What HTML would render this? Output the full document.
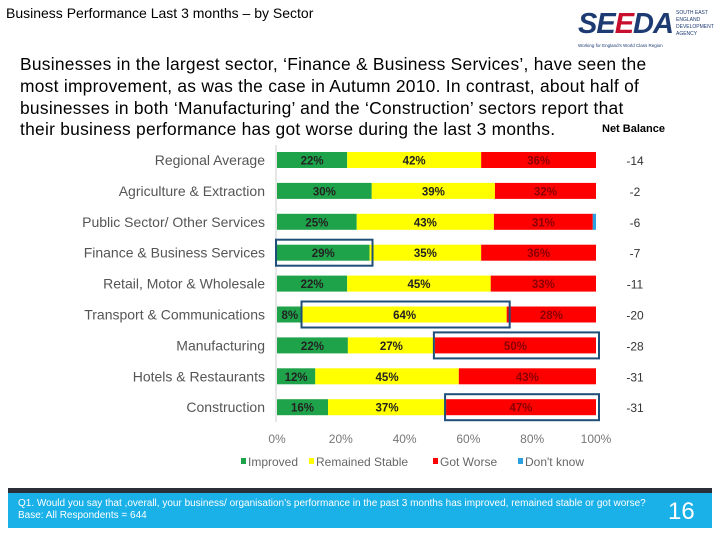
<!DOCTYPE html>
<html><head><meta charset="utf-8"><style>
body{margin:0;width:720px;height:540px;background:#fff;font-family:"Liberation Sans",sans-serif;position:relative;overflow:hidden}
.a{position:absolute;white-space:nowrap}
</style></head><body>
<div class="a" style="left:6px;top:5px;font-size:14px;color:#000">Business Performance Last 3 months – by Sector</div>
<div class="a" style="left:578px;top:8px;width:130px;height:42px">
 <div class="a" style="left:0;top:0;font-size:29px;font-weight:bold;color:#1d3a73;font-style:italic;letter-spacing:-1px">SE<span style="color:#c8102e">E</span>DA</div>
 <div class="a" style="left:98px;top:2px;font-size:5px;line-height:7px;color:#1d3a73">SOUTH EAST<br>ENGLAND<br>DEVELOPMENT<br>AGENCY</div>
 <div class="a" style="left:0;top:35px;font-size:4.5px;color:#1d3a73">Working for England's World Class Region</div>
</div>
<div class="a" style="left:20px;top:54px;font-size:17.4px;line-height:21.8px;color:#000;letter-spacing:0.26px">Businesses in the largest sector, ‘Finance &amp; Business Services’, have seen the<br>most improvement, as was the case in Autumn 2010. In contrast, about half of<br>businesses in both ‘Manufacturing’ and the ‘Construction’ sectors report that<br>their business performance has got worse during the last 3 months.</div>
<div class="a" style="left:602px;top:123px;font-size:11px;font-weight:bold">Net Balance</div>
<svg id="c" class="a" style="left:0;top:0" width="720" height="540"></svg>
<div class="a" style="left:8px;top:488px;width:704px;height:5px;background:#2a2f38"></div>
<div class="a" style="left:8px;top:493px;width:704px;height:35px;background:#1ab0e8;color:#fff">
 <div class="a" style="left:10px;top:5px;font-size:10px;line-height:12px">Q1. Would you say that ,overall, your business/ organisation’s performance in the past 3 months has improved, remained stable or got worse?<br>Base: All Respondents = 644</div>
 <div class="a" style="left:660px;top:5px;font-size:24px">16</div>
</div>
<script>
const categories=["Regional Average","Agriculture & Extraction","Public Sector/ Other Services","Finance & Business Services","Retail, Motor & Wholesale","Transport & Communications","Manufacturing","Hotels & Restaurants","Construction"];
const improved=[22,30,25,29,22,8,22,12,16];
const stable=[42,39,43,35,45,64,27,45,37];
const worse=[36,32,31,36,33,28,50,43,47];
const dontKnow=[0,0,1,0,0,0,0,0,0];
const netBalance=[-14,-2,-6,-7,-11,-20,-28,-31,-31];
const xTicks=[0,20,40,60,80,100];
const seriesNames=["Improved","Remained Stable","Got Worse","Don't know"];
const colors=["#1fa34a","#ffff00","#ff0000","#2aa0e0"];
const highlights=[[3,0],[5,1],[6,2],[8,2]];
const NS="http://www.w3.org/2000/svg",svg=document.getElementById('c');
const x0=277,x1=596,y0=160,step=30.9,bh=16;
const X=v=>x0+(x1-x0)*v/100, Y=i=>y0+i*step;
function el(t,a,p){const e=document.createElementNS(NS,t);for(const k in a)e.setAttribute(k,a[k]);(p||svg).appendChild(e);return e;}
const series=[improved,stable,worse,dontKnow];
const axis=el('line',{x1:x0-1,x2:x0-1,y1:145,y2:422,stroke:'#ccc'});


categories.forEach((c,i)=>{
  const t=el('text',{x:265,y:Y(i)+5,'text-anchor':'end','font-size':14,fill:'#555'});t.textContent=c;
  
  
  const tot=improved[i]+stable[i]+worse[i]+dontKnow[i];let acc=0;
  series.forEach((s,k)=>{
    const v=s[i]*100/tot;if(v<=0)return;
    const r=el('rect',{x:X(acc),y:Y(i)-bh/2,width:X(acc+v)-X(acc),height:bh,fill:colors[k]});
    
    
    if(k<3){const l=el('text',{x:(X(acc)+X(acc+v))/2,y:Y(i)+4.5,'text-anchor':'middle','font-size':11.5,'font-weight':'bold',fill:k==2?'#8b0000':'#222'});l.textContent=s[i]+'%';
      
      }
    acc+=v;
  });
  const n=el('text',{x:635,y:Y(i)+5,'text-anchor':'middle','font-size':12,fill:'#333'});n.textContent=netBalance[i];
  
  
});
highlights.forEach(([i,k])=>{
  const tot=improved[i]+stable[i]+worse[i]+dontKnow[i];let a=0;for(let j=0;j<k;j++)a+=series[j][i]*100/tot;const b=a+series[k][i]*100/tot;
  const r=el('rect',{x:X(a)-1,y:Y(i)-13,width:X(b)-X(a)+4,height:26,fill:'none',stroke:'#1f4e79','stroke-width':2});
  
  
});
xTicks.forEach(v=>{const t=el('text',{x:X(v),y:443,'text-anchor':'middle','font-size':12,fill:'#777'});t.textContent=v+'%';
  
  });
let lx=241;
seriesNames.forEach((n,k)=>{
  const g=el('g',{});
  
  
  el('rect',{x:lx,y:458,width:5,height:6,fill:colors[k]},g);
  const t=el('text',{x:lx+7,y:466,'font-size':12,fill:'#666'},g);t.textContent=n;
  lx+=[68,124,85,0][k];
});
</script>
</body></html>
